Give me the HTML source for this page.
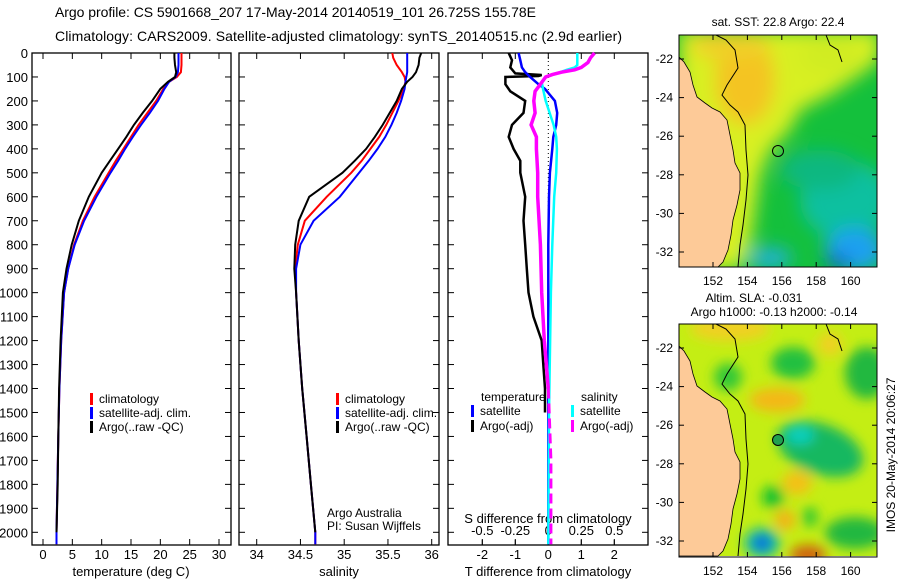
<!DOCTYPE html>
<html><head><meta charset="utf-8">
<style>
html,body{margin:0;padding:0;background:#fff;}
svg{display:block;font-family:"Liberation Sans",sans-serif;}
</style></head>
<body>
<svg id="fig" width="900" height="580" viewBox="0 0 900 580" xmlns="http://www.w3.org/2000/svg">
<defs>
<filter id="blur1" x="-20%" y="-20%" width="140%" height="140%"><feGaussianBlur stdDeviation="9"/></filter>
<filter id="blur2" x="-20%" y="-20%" width="140%" height="140%"><feGaussianBlur stdDeviation="6"/></filter>
<clipPath id="mapclip1"><rect x="679" y="35" width="198" height="232"/></clipPath>
<clipPath id="mapclip2"><rect x="679" y="324" width="198" height="233"/></clipPath>
</defs>
<text x="55" y="17" font-size="14" textLength="481">Argo profile: CS 5901668_207 17-May-2014 20140519_101 26.725S 155.78E</text>
<text x="55" y="41" font-size="14" textLength="567">Climatology: CARS2009. Satellite-adjusted climatology: synTS_20140515.nc (2.9d earlier)</text>

<!-- Map 1 -->
<g>
<text x="778" y="26" font-size="12" text-anchor="middle">sat. SST: 22.8 Argo: 22.4</text>
<g clip-path="url(#mapclip1)">
<rect x="679" y="35" width="198" height="232" fill="#14c03c"/>
<g filter="url(#blur1)">
<polygon points="679,30 880,30 880,60 860,75 830,95 800,110 790,130 770,150 760,175 755,210 750,245 740,270 679,270" fill="#d8f020"/>
<ellipse cx="745" cy="80" rx="30" ry="45" fill="#f4c424"/>
<ellipse cx="730" cy="45" rx="40" ry="15" fill="#f0d028"/>
<ellipse cx="830" cy="55" rx="30" ry="18" fill="#d0ec20"/>
<ellipse cx="845" cy="200" rx="45" ry="40" fill="#08c0a0"/>
<ellipse cx="820" cy="170" rx="40" ry="20" fill="#10b880"/>
<ellipse cx="855" cy="250" rx="30" ry="22" fill="#1aa0f0"/>
<ellipse cx="838" cy="262" rx="12" ry="6" fill="#1040c0"/>
<ellipse cx="770" cy="258" rx="22" ry="10" fill="#20b0e0"/>
</g>
<polygon points="679,57 684,62 690,72 693,85 697,97 705,103 712,108 720,112 727,120 730,135 733,150 735,163 740,173 740,190 737,205 733,220 731,235 728,250 723,262 718,267 679,267" fill="#fdca98" stroke="#000" stroke-width="0.8"/>
<polyline points="716,35 726,40 735,50 738,68 727,85 722,95 730,105 738,112 745,125 746,150 748,175 746,200 743,225 740,245 738,267" fill="none" stroke="#000" stroke-width="1"/>
<polyline points="826,35 830,45 838,50 842,62 838,50" fill="none" stroke="#000" stroke-width="1"/>
<circle cx="778" cy="151" r="5.5" fill="none" stroke="#000" stroke-width="1"/>
</g>
<rect x="679" y="35" width="198" height="232" fill="none" stroke="#000" stroke-width="1"/>
</g>

<!-- Map 2 -->
<g>
<text x="754" y="302" font-size="12" text-anchor="middle">Altim. SLA: -0.031</text>
<text x="774" y="316" font-size="12" text-anchor="middle">Argo h1000: -0.13 h2000: -0.14</text>
<g clip-path="url(#mapclip2)">
<g transform="translate(0,289)">
<rect x="679" y="35" width="198" height="232" fill="#c4ee14"/>
<g filter="url(#blur2)">
<ellipse cx="793" cy="74" rx="22" ry="16" fill="#20c040"/>
<ellipse cx="728" cy="88" rx="14" ry="14" fill="#30c838"/>
<ellipse cx="867" cy="84" rx="22" ry="26" fill="#20b840"/>
<ellipse cx="820" cy="160" rx="45" ry="25" fill="#18b860" transform="rotate(20 820 160)"/>
<ellipse cx="800" cy="146" rx="14" ry="9" fill="#10d0c0"/>
<ellipse cx="773" cy="208" rx="11" ry="11" fill="#10c030"/>
<ellipse cx="810" cy="228" rx="8" ry="10" fill="#30c830"/>
<ellipse cx="855" cy="244" rx="30" ry="16" fill="#20b840"/>
<ellipse cx="762" cy="254" rx="18" ry="15" fill="#10c0a0"/>
<ellipse cx="762" cy="254" rx="9" ry="8" fill="#1060e0"/>
<ellipse cx="777" cy="111" rx="28" ry="12" fill="#f4b818"/>
<ellipse cx="797" cy="194" rx="15" ry="12" fill="#f4c018"/>
<ellipse cx="785" cy="231" rx="10" ry="10" fill="#f4b018"/>
<ellipse cx="808" cy="266" rx="18" ry="10" fill="#d06010"/>
<ellipse cx="730" cy="40" rx="40" ry="12" fill="#f0d020"/>
<ellipse cx="830" cy="55" rx="12" ry="12" fill="#f0d020"/>
</g>
<polygon points="679,57 684,62 690,72 693,85 697,97 705,103 712,108 720,112 727,120 730,135 733,150 735,163 740,173 740,190 737,205 733,220 731,235 728,250 723,262 718,267 679,267" fill="#fdca98" stroke="#000" stroke-width="0.8"/>
<polyline points="716,35 726,40 735,50 738,68 727,85 722,95 730,105 738,112 745,125 746,150 748,175 746,200 743,225 740,245 738,267" fill="none" stroke="#000" stroke-width="1"/>
<polyline points="826,35 830,45 838,50 842,62 838,50" fill="none" stroke="#000" stroke-width="1"/>
<circle cx="778" cy="151" r="5.5" fill="#20a050" stroke="#000" stroke-width="1"/>
</g>
</g>
<rect x="679" y="324" width="198" height="233" fill="none" stroke="#000" stroke-width="1"/>
</g>
<text transform="translate(895,455) rotate(-90)" font-size="12" text-anchor="middle">IMOS 20-May-2014 20:06:27</text>
<g id="maxes"></g>
<g id="plots"></g>
</svg>
<script>
// ---- data ----
const depthsTS = [0,20,50,80,100,120,150,200,250,300,350,400,450,500,600,700,800,900,1000,1200,1400,1600,1800,2000,2050];
const tempClim = [23.6,23.6,23.6,23.5,22.8,21.5,20.5,19.3,17.8,16.3,15,13.7,12.4,11.2,8.8,6.8,5.3,4.3,3.6,3.1,2.8,2.6,2.45,2.3,2.3];
const tempSat  = [23.1,23.1,23.1,23.0,22.6,21.5,20.7,19.6,18.2,16.7,15.3,14,12.8,11.5,9.1,7,5.4,4.3,3.6,3.1,2.8,2.6,2.45,2.3,2.3];
const tempArgo = [22.4,22.4,22.5,22.7,22.5,21.3,20,18.6,17,15.5,14.2,12.8,11.4,10,7.8,6.1,4.9,4.0,3.4,3.0,2.75,2.6,2.5,2.3];
const salClim = [35.55,35.56,35.6,35.66,35.69,35.7,35.68,35.62,35.55,35.48,35.4,35.3,35.2,35.08,34.8,34.55,34.47,34.44,34.45,34.48,34.52,34.57,34.62,34.67,34.67];
const salSat  = [35.72,35.72,35.72,35.72,35.71,35.7,35.69,35.65,35.6,35.54,35.47,35.38,35.28,35.17,34.95,34.65,34.5,34.45,34.45,34.48,34.52,34.57,34.62,34.67,34.67];
const salArgo = [35.88,35.86,35.85,35.82,35.78,35.72,35.66,35.6,35.52,35.44,35.35,35.25,35.12,34.98,34.6,34.48,34.44,34.43,34.45,34.48,34.52,34.57,34.62,34.67];
const depthsTdArgo = [0,30,60,85,92,96,100,130,160,200,250,300,350,400,450,500,600,700,800,900,1000,1100,1200,1300,1400,1500];
const tDiffArgo = [-1.2,-1.1,-1.15,-1.0,-0.2,-0.3,-1.3,-1.3,-1.15,-0.7,-0.75,-1.1,-1.2,-1.05,-0.85,-0.85,-0.7,-0.75,-0.7,-0.65,-0.6,-0.45,-0.2,-0.15,-0.1,-0.1];
const depthsTdSat = [0,30,60,80,100,130,150,200,250,300,350,400,500,600,800,1000,1500,2050];
const tDiffSat = [-0.9,-0.85,-0.8,-0.7,-0.55,-0.3,-0.1,0.2,0.27,0.24,0.15,0.12,0.05,0.02,0.0,0.0,0.0,0.0];
const depthsSdArgo = [0,20,40,60,70,80,90,100,130,160,200,250,300,350,400,500,600,800,1000,1200,1400,1700,2050];
const sDiffArgo = [0.35,0.32,0.3,0.25,0.2,0.1,0.03,-0.02,-0.06,-0.1,-0.11,-0.1,-0.13,-0.09,-0.09,-0.08,-0.08,-0.06,-0.05,-0.03,0.0,0.02,0.02];
const depthsSdSat = [0,50,60,70,80,100,120,150,200,300,350,400,500,600,800,1000,1500,2050];
const sDiffSat = [0.22,0.22,0.2,0.14,0.09,-0.02,-0.05,-0.04,-0.02,0.04,0.06,0.065,0.06,0.045,0.03,0.02,0.005,0.0];
const depthTicks = [0,100,200,300,400,500,600,700,800,900,1000,1100,1200,1300,1400,1500,1600,1700,1800,1900,2000];
const tempTicks = [0,5,10,15,20,25,30];
const salTicks = [34,34.5,35,35.5,36];
const tdTicks = [-2,-1,0,1,2];
const sdTickLabels = ["-0.5","-0.25","0","0.25","0.5"];
const sdTicks = [-0.5,-0.25,0,0.25,0.5];
const mapLatTicks = [-22,-24,-26,-28,-30,-32];
const mapLonTicks = [152,154,156,158,160];

// ---- scales ----
const TOP=53, BOT=545;
const yD = d => 53 + d*0.23965;
const xT = t => 43 + t*5.867;
const xS = s => 256.7 + (s-34)*87.5;
const xTd = t => 548.3 + t*33;
const xSd = s => 548.3 + s*132;
const NS='http://www.w3.org/2000/svg';
const plots=document.getElementById('plots');
function mk(tag,attrs,parent){const e=document.createElementNS(NS,tag);for(const k in attrs)e.setAttribute(k,attrs[k]);(parent||plots).appendChild(e);return e;}
function txt(x,y,s,anchor,size,name){const e=mk('text',{x:x,y:y,'font-size':size||12,'text-anchor':anchor||'start'});e.textContent=s;


return e;}
function line(xs,ds,xf,color,name,w,dash){
  const pts=xs.map((v,i)=>xf(v).toFixed(1)+','+yD(ds[i]).toFixed(1)).join(' ');
  const e=mk('polyline',{points:pts,fill:'none',stroke:color,'stroke-width':w||2});
  if(dash)e.setAttribute('stroke-dasharray',dash);
  
  
}
const panels=[{l:32,r:231,name:'temperature-panel'},{l:239,r:439,name:'salinity-panel'},{l:448,r:648,name:'difference-panel'}];
panels.forEach(p=>{
  const r=mk('rect',{x:p.l,y:TOP,width:p.r-p.l,height:BOT-TOP,fill:'none',stroke:'#000','stroke-width':1.3});
  
  
  depthTicks.forEach(d=>{
    mk('line',{x1:p.l,x2:p.l+6,y1:yD(d),y2:yD(d),stroke:'#000'});
    mk('line',{x1:p.r,x2:p.r-6,y1:yD(d),y2:yD(d),stroke:'#000'});
  });
});
depthTicks.forEach(d=>txt(28,yD(d)+5,String(d),'end',13,'depth-tick-label'));
// x ticks
function xticks(vals,xf,labels,ylab){
  vals.forEach((v,i)=>{const x=xf(v);
    mk('line',{x1:x,x2:x,y1:TOP,y2:TOP+6,stroke:'#000'});
    mk('line',{x1:x,x2:x,y1:BOT,y2:BOT-6,stroke:'#000'});
    if(labels)txt(x,ylab,labels[i],'middle',13,'x-tick-label');});
}
xticks(tempTicks,xT,tempTicks.map(String),559);
xticks(salTicks,xS,salTicks.map(String),559);
xticks(tdTicks,xTd,tdTicks.map(String),559);
sdTicks.forEach((v,i)=>{const x=xSd(v);mk('line',{x1:x,x2:x,y1:BOT,y2:BOT-5,stroke:'#000'});txt(x,535,sdTickLabels[i],'middle',13,'s-diff-tick-label');});
txt(131,576,'temperature (deg C)','middle',13,'temperature-axis-title');
txt(339,576,'salinity','middle',13,'salinity-axis-title');
txt(548,576,'T difference from climatology','middle',13,'t-diff-axis-title');
txt(548,523,'S difference from climatology','middle',13,'s-diff-axis-title');
txt(327,517,'Argo Australia','start',12,'credit-argo-australia');
txt(327,530,'PI: Susan Wijffels','start',12,'credit-pi');
// zero dotted line
const z=mk('line',{x1:xTd(0),x2:xTd(0),y1:TOP,y2:yD(1500),stroke:'#000','stroke-dasharray':'1,3'});


// series
line(tempClim,depthsTS,xT,'#ff0000','temp-climatology-line');
line(tempSat,depthsTS,xT,'#0000ff','temp-satellite-line');
line(tempArgo,depthsTS,xT,'#000000','temp-argo-line');
line(salClim,depthsTS,xS,'#ff0000','sal-climatology-line');
line(salSat,depthsTS,xS,'#0000ff','sal-satellite-line');
line(salArgo,depthsTS,xS,'#000000','sal-argo-line');
line(tDiffArgo,depthsTdArgo,xTd,'#000000','t-diff-argo-line',2.5);
line(tDiffSat,depthsTdSat,xTd,'#0000ff','t-diff-satellite-line',2.5);
line(sDiffSat,depthsSdSat,xSd,'#00ffff','s-diff-satellite-line',2.5);
const cut=depthsSdArgo.indexOf(1400);
line(sDiffArgo.slice(0,cut+1),depthsSdArgo.slice(0,cut+1),xSd,'#ff00ff','s-diff-argo-line',3.5);
line(sDiffArgo.slice(cut),depthsSdArgo.slice(cut),xSd,'#ff00ff','s-diff-argo-dashed-line',3,'10,5');
// legends
function leg(x,y,color,label,name){
  const b=mk('rect',{x:x,y:y-10,width:3,height:12,fill:color});
  
  
  txt(x+9,y,label,'start',12,name);
}
leg(90,403,'#ff0000','climatology','legend-climatology');
leg(90,417,'#0000ff','satellite-adj. clim.','legend-satellite');
leg(90,431,'#000000','Argo(..raw -QC)','legend-argo');
leg(336,403,'#ff0000','climatology','legend2-climatology');
leg(336,417,'#0000ff','satellite-adj. clim.','legend2-satellite');
leg(336,431,'#000000','Argo(..raw -QC)','legend2-argo');
txt(481,401,'temperature','start',12,'legend-temperature-header');
txt(581,401,'salinity','start',12,'legend-salinity-header');
leg(471,415,'#0000ff','satellite','legend-t-satellite');
leg(471,430,'#000000','Argo(-adj)','legend-t-argo');
leg(571,415,'#00ffff','satellite','legend-s-satellite');
leg(571,430,'#ff00ff','Argo(-adj)','legend-s-argo');
// map axes
const lx = lon => 713 + (lon-152)*17.2;
const ly = lat => 59 + (-22-lat)*19.3;
[0,289].forEach((off,mi)=>{
  mapLatTicks.forEach(la=>{const y=ly(la)+off;
    mk('line',{x1:679,x2:684,y1:y,y2:y,stroke:'#000'});
    mk('line',{x1:877,x2:872,y1:y,y2:y,stroke:'#000'});
    txt(673,y+4,String(la),'end',12,'map'+(mi+1)+'-lat-label');});
  mapLonTicks.forEach(lo=>{const x=lx(lo);
    mk('line',{x1:x,x2:x,y1:35+off,y2:40+off,stroke:'#000'});
    mk('line',{x1:x,x2:x,y1:(mi?557:267),y2:(mi?552:262),stroke:'#000'});
    txt(x,(mi?575:285),String(lo),'middle',12,'map'+(mi+1)+'-lon-label');});
});
</script>
</body></html>
